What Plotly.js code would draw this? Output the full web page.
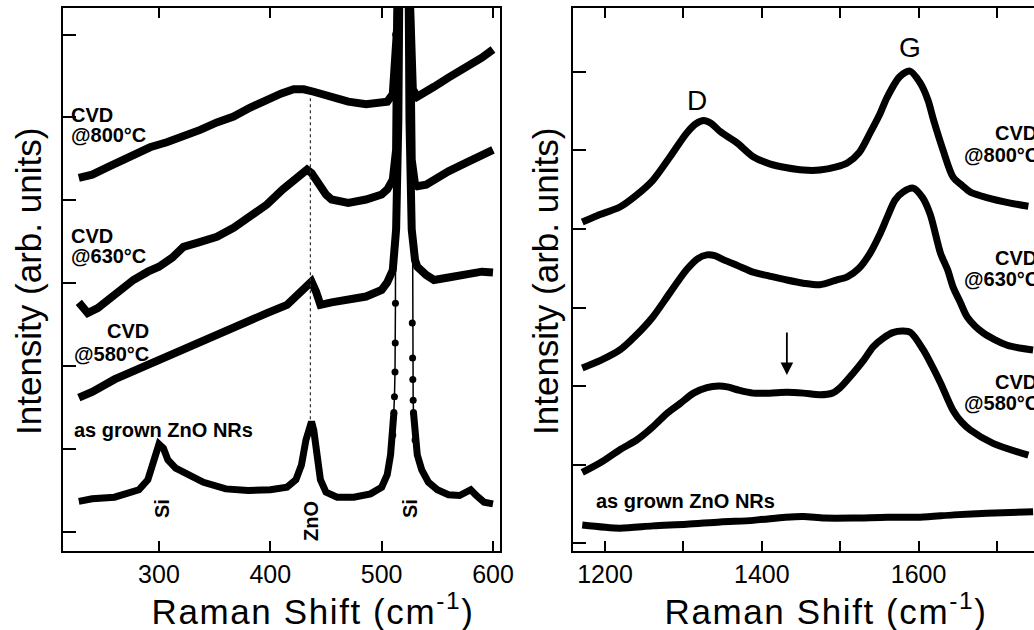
<!DOCTYPE html>
<html>
<head>
<meta charset="utf-8">
<script src="https://cdn.plot.ly/plotly-3.0.1.min.js"></script>
<style>
html,body{margin:0;padding:0;background:#fff;overflow:hidden;}
#chart{width:1034px;height:630px;}
.annotation[data-index="20"] text, .annotation[data-index="21"] text{letter-spacing:1.6px;}
</style>
</head>
<body>
<div id="chart"></div>
<script>
// ---------- Left panel (ZnO / Si region) ----------
const left800X = [228,240,254,265,277,292,307,322,337,352,367,382,397,410,421,430,439,455,470,486,500,505,510,512,514,516,520,524,526,528,532,540,547,560,577,590,600];
const left800Y = [4.27,4.31,4.40,4.47,4.55,4.64,4.70,4.77,4.85,4.94,5.01,5.12,5.22,5.29,5.34,5.34,5.31,5.25,5.19,5.16,5.18,5.19,5.28,5.58,6.10,7.0,15,7.0,5.94,5.34,5.25,5.30,5.37,5.48,5.61,5.72,5.82];

const left630X = [228,236,245,254,265,277,290,300,312,322,335,352,367,381,397,411,425,433,437,444,450,455,470,486,500,505,510,513,515,516.5,520,523.5,525,527,530,532,540,547,560,577,590,600];
const left630Y = [2.77,2.64,2.70,2.80,2.90,3.04,3.14,3.20,3.31,3.44,3.49,3.56,3.67,3.80,3.95,4.13,4.27,4.37,4.33,4.17,4.07,4.01,3.97,4.01,4.07,4.13,4.25,4.61,5.82,8.5,15,8.5,5.82,4.49,4.19,4.17,4.19,4.25,4.35,4.46,4.55,4.61];

const left580X = [228,240,260,280,300,320,350,375,397,415,427,433,437,441,445,455,470,486,500,505,510,513,515,516.5,520,523.5,525,527,530,532,540,547,560,577,590,600];
const left580Y = [1.62,1.69,1.84,1.96,2.08,2.20,2.38,2.52,2.64,2.74,2.89,2.99,3.02,2.90,2.74,2.77,2.80,2.84,2.92,3.01,3.16,3.65,4.97,8.23,14,8.23,4.97,3.65,3.28,3.20,3.10,3.04,3.07,3.10,3.14,3.13];

const leftGrownX = [228,240,260,275,282,290,295,300,304,308,315,325,340,360,380,400,415,423,428,432,435,437,439,442,445,450,460,475,490,500,505,508,510,511,511.5,512,512.2,512.4,512.6,513,519.5,526.5,527.5,527.8,528,528.3,528.6,530,532,536,542,550,560,570,576,580,585,592,600];
const leftGrownY = [0.37,0.40,0.42,0.47,0.51,0.63,0.85,1.06,1.01,0.87,0.77,0.70,0.60,0.52,0.50,0.51,0.54,0.63,0.81,1.11,1.30,1.33,1.23,0.87,0.63,0.48,0.42,0.42,0.46,0.54,0.69,0.93,1.17,1.44,1.63,1.93,2.28,2.76,6.0,9,14,9,2.52,2.10,1.84,1.59,1.44,1.11,0.93,0.75,0.60,0.51,0.45,0.44,0.48,0.51,0.44,0.36,0.34];

const leftTicks = [300,400,500,600];
const znoPeak = 436;

// ---------- Right panel (D / G bands) ----------
const right800X = [1171,1190,1219,1240,1261,1283,1304,1316,1326,1336,1347,1368,1389,1410,1432,1453,1474,1495,1509,1524,1538,1550,1560,1576,1589,1602,1612,1619,1631,1644,1656,1666,1687,1717,1740];
const right800Y = [4.09,4.17,4.28,4.43,4.62,4.92,5.22,5.34,5.38,5.34,5.24,5.10,4.92,4.83,4.78,4.75,4.75,4.79,4.84,4.97,5.22,5.45,5.68,5.94,6.01,5.86,5.64,5.39,5.01,4.66,4.55,4.47,4.40,4.33,4.29];

const right630X = [1171,1195,1219,1240,1261,1283,1304,1318,1330,1340,1351,1370,1389,1410,1432,1453,1474,1495,1509,1524,1538,1550,1560,1570,1580,1593,1605,1615,1628,1637,1644,1653,1662,1682,1713,1746];
const right630Y = [2.23,2.33,2.46,2.65,2.88,3.19,3.48,3.62,3.67,3.66,3.61,3.53,3.45,3.40,3.35,3.31,3.29,3.35,3.39,3.50,3.69,3.92,4.15,4.37,4.47,4.52,4.40,4.18,3.69,3.48,3.26,3.07,2.88,2.68,2.52,2.46];

const right580X = [1171,1195,1219,1240,1261,1280,1296,1313,1330,1345,1356,1370,1389,1410,1432,1453,1474,1490,1500,1517,1530,1542,1555,1567,1580,1590,1606,1617,1628,1644,1655,1666,1695,1740];
const right580Y = [0.90,1.03,1.19,1.31,1.48,1.66,1.78,1.91,1.98,2.00,1.99,1.95,1.91,1.91,1.92,1.91,1.89,1.91,1.98,2.17,2.33,2.50,2.61,2.68,2.70,2.68,2.46,2.26,2.04,1.69,1.54,1.44,1.27,1.12];

const rightGrownX = [1171,1219,1261,1304,1347,1389,1430,1453,1480,1517,1560,1602,1645,1687,1746];
const rightGrownY = [0.23,0.19,0.22,0.24,0.27,0.29,0.33,0.34,0.32,0.32,0.33,0.33,0.36,0.38,0.40];

const rightLabelTicks = [1200,1400,1600];   // labelled ticks
const rightMinorStep = 100;                 // unlabelled ticks every 100
const shoulderX = 1432, shoulderY = 2.14;

// ---------- Build ----------
const W = 1034, H = 630;
const px = v => v / W, py = v => 1 - v / H;
const black = '#000';
const FONT = 'Liberation Sans, Arial, Helvetica, sans-serif';

function thick(x, y, xa, ya, w, shape) {
  return {x, y, xaxis: xa, yaxis: ya, mode: 'lines', type: 'scatter',
    line: {color: black, width: w, shape: shape || 'linear', smoothing: 0.8},
    connectgaps: false, hoverinfo: 'skip', showlegend: false};
}

// split as-grown left series: thick baseline, thin line+markers across the Si peak
const gThickY = leftGrownY.map((v, i) => (leftGrownX[i] > 511 && leftGrownX[i] < 528.6) ? null : v);
const gPeakX = [], gPeakY = [];
leftGrownX.forEach((v, i) => { if (v >= 510 && v <= 530) { gPeakX.push(v); gPeakY.push(leftGrownY[i]); } });

const traces = [
  thick(left800X, left800Y, 'x', 'y', 8),
  thick(left630X, left630Y, 'x', 'y', 8),
  thick(left580X, left580Y, 'x', 'y', 8),
  thick(leftGrownX, gThickY, 'x', 'y', 7),
  {x: gPeakX, y: gPeakY, xaxis: 'x', yaxis: 'y', mode: 'lines+markers', type: 'scatter',
   line: {color: black, width: 1.5}, marker: {color: black, size: 7},
   cliponaxis: true, hoverinfo: 'skip', showlegend: false},
  thick(right800X, right800Y, 'x2', 'y2', 7, 'spline'),
  thick(right630X, right630Y, 'x2', 'y2', 7, 'spline'),
  thick(right580X, right580Y, 'x2', 'y2', 7, 'spline'),
  thick(rightGrownX, rightGrownY, 'x2', 'y2', 7, 'spline')
];

const axBase = {
  showgrid: false, zeroline: false, showline: true, linecolor: black, linewidth: 2,
  ticks: 'inside', tickcolor: black, tickwidth: 2,
  tickfont: {family: FONT, size: 25, color: black}
};

function lab(text, x, y, opts) {
  return Object.assign({text, xref: 'paper', yref: 'paper', x: px(x), y: py(y),
    showarrow: false, xanchor: 'left', yanchor: 'middle',
    font: {family: FONT, size: 20, color: black, weight: 'bold'}}, opts || {});
}

const annotations = [
  // left panel labels
  lab('CVD', 69, 115), lab('@800°C', 69, 135),
  lab('CVD', 69, 236), lab('@630°C', 69, 256),
  lab('CVD', 151, 331, {xanchor: 'right'}), lab('@580°C', 151, 354, {xanchor: 'right'}),
  lab('as grown ZnO NRs', 72, 430),
  lab('Si', 162, 509, {xanchor: 'center', textangle: -90}),
  lab('ZnO', 311, 521, {xanchor: 'center', textangle: -90}),
  lab('Si', 410, 509, {xanchor: 'center', textangle: -90}),
  // right panel labels
  lab('D', 697, 100, {xanchor: 'center', font: {family: FONT, size: 28, color: black}}),
  lab('G', 910, 48, {xanchor: 'center', font: {family: FONT, size: 28, color: black}}),
  lab('CVD', 1039, 133, {xanchor: 'right'}), lab('@800°C', 1041, 155, {xanchor: 'right'}),
  lab('CVD', 1039, 258, {xanchor: 'right'}), lab('@630°C', 1041, 279, {xanchor: 'right'}),
  lab('CVD', 1039, 382, {xanchor: 'right'}), lab('@580°C', 1041, 403, {xanchor: 'right'}),
  lab('as grown ZnO NRs', 594, 501),
  // shoulder arrow
  {x: shoulderX, y: shoulderY, xref: 'x2', yref: 'y2', text: '', showarrow: true,
   ax: 0, ay: -44, arrowhead: 2, arrowsize: 1.4, arrowwidth: 1.8, arrowcolor: black},
  // axis titles
  lab('Raman Shift (cm<sup>-1</sup>)', 313, 609, {xanchor: 'center', font: {family: FONT, size: 35, color: black}}),
  lab('Raman Shift (cm<sup>-1</sup>)', 826, 609, {xanchor: 'center', font: {family: FONT, size: 35, color: black}}),
  lab('Intensity (arb. units)', 28, 282, {xanchor: 'center', textangle: -90, font: {family: FONT, size: 35, color: black}}),
  lab('Intensity (arb. units)', 545, 282, {xanchor: 'center', textangle: -90, font: {family: FONT, size: 35, color: black}})
];

const layout = {
  width: W, height: H,
  margin: {l: 0, r: 0, t: 0, b: 0},
  paper_bgcolor: '#fff', plot_bgcolor: '#fff',
  showlegend: false,
  xaxis: Object.assign({}, axBase, {domain: [px(63), px(500)], range: [213.8, 606.3],
    tickvals: leftTicks, ticklen: 10, mirror: 'ticks', anchor: 'y'}),
  yaxis: Object.assign({}, axBase, {domain: [py(551), py(8)], range: [-0.229, 6.32],
    tickvals: [0,1,2,3,4,5,6], ticklen: 13, showticklabels: false, mirror: true, anchor: 'x'}),
  xaxis2: Object.assign({}, axBase, {domain: [px(573), 1], range: [1159.2, 1747.2],
    tickvals: rightLabelTicks, ticklen: 10, mirror: 'ticks', anchor: 'y2',
    minor: {tickmode: 'linear', tick0: rightLabelTicks[0], dtick: rightMinorStep, ticks: 'inside',
            ticklen: 10, tickwidth: 2, tickcolor: black, showgrid: false}}),
  yaxis2: Object.assign({}, axBase, {domain: [py(551), py(7.5)], range: [-0.10, 6.82],
    tickvals: [0,1,2,3,4,5,6], ticklen: 13, showticklabels: false, mirror: false, anchor: 'x2'}),
  shapes: [
    {type: 'line', xref: 'x', yref: 'y', x0: znoPeak, x1: znoPeak, y0: 1.36, y1: 5.25,
     line: {color: '#333', width: 1.2, dash: 'dot'}}
  ],
  annotations
};

Plotly.newPlot('chart', traces, layout, {displayModeBar: false, staticPlot: true});
</script>
</body>
</html>
